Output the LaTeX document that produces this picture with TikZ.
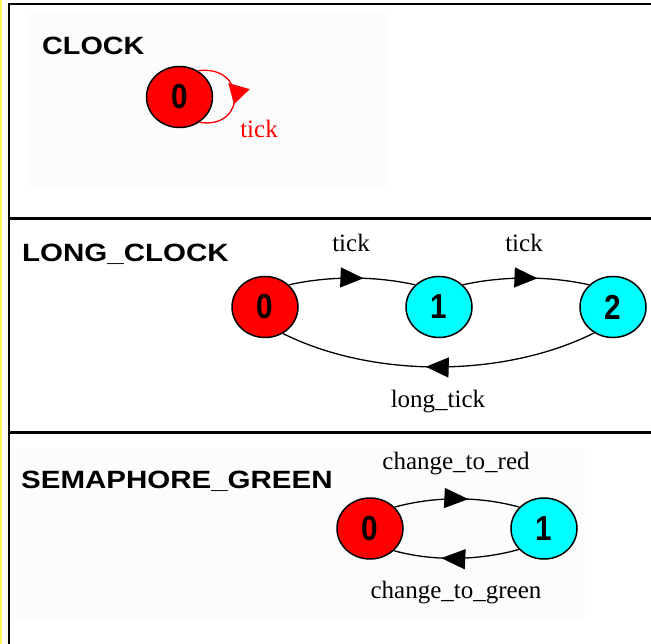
\documentclass[tikz,border=0pt]{standalone}
\usepackage{fontspec}
\setmainfont{Liberation Serif}
\newfontfamily\hdfont{Liberation Sans}
\usetikzlibrary{arrows.meta,decorations.markings,shapes.geometric}
\definecolor{stred}{HTML}{FF0000}
\definecolor{stcyan}{HTML}{00FFFF}
\definecolor{panelgray}{HTML}{FCFCFC}
\definecolor{borderyellow}{HTML}{FFF44F}
\begin{document}
\begin{tikzpicture}[x=1pt,y=-1pt,
  state/.style={ellipse, draw=black, line width=1.5pt, minimum width=66pt, minimum height=61pt, inner sep=0pt, font=\hdfont\bfseries\fontsize{33}{33}\selectfont},
  redstate/.style={state, fill=stred},
  cyanstate/.style={state, fill=stcyan},
  title/.style={anchor=base west, inner sep=0pt, font=\hdfont\bfseries\fontsize{25}{25}\selectfont},
  lbl/.style={inner sep=0pt, font=\fontsize{25}{25}\selectfont},
  edge/.style={line width=1.3pt, color=black},
  loopedge/.style={line width=1.3pt, color=stred},
  midarrow/.style 2 args={postaction={decorate}, decoration={markings, mark=at position #1 with {\arrow{Triangle[#2]}}}},
]
\useasboundingbox (0,0) rectangle (651,644);
% faint panels
\fill[panelgray] (30,13) rectangle (387,187);
\fill[panelgray] (10,448) rectangle (585,618);
% frame
\draw[borderyellow, line width=2.5pt] (1,0) -- (1,644);
\draw[line width=2.5pt] (9,644) -- (9,4) -- (651,4);
\draw[line width=3pt] (9,218.5) -- (651,218.5);
\draw[line width=3pt] (9,432.5) -- (651,432.5);

% CLOCK
\node[title] (tclock) at (42,55) {\scalebox{1.15}[1]{CLOCK}};
\node[redstate] (c0) at (179.5,97) {\scalebox{0.9}[1.05]{0}};
\draw[loopedge, midarrow={0.58}{length=19pt,width=22pt}] (c0.55) .. controls (247,64) and (247,130) .. (c0.-52);
\node[lbl, text=stred] (ctick) at (259,129) {tick};

% LONG_CLOCK
\node[title] (tlong) at (22,262) {\scalebox{1.18}[1]{LONG\_CLOCK}};
\node[redstate] (l0) at (265,307) {\scalebox{0.9}[1.05]{0}};
\node[cyanstate] (l1) at (439,307) {\scalebox{0.9}[1.05]{1}};
\node[cyanstate] (l2) at (613,307) {\scalebox{0.9}[1.05]{2}};
\draw[edge, midarrow={0.59}{length=23pt,width=20pt}] (l0.43) .. controls +(40,-9) and +(-40,-9) .. (l1.137);
\draw[edge, midarrow={0.59}{length=23pt,width=20pt}] (l1.43) .. controls +(40,-9) and +(-40,-9) .. (l2.137);
\draw[edge, midarrow={0.54}{length=23pt,width=20pt}] (l2.234) .. controls +(-90,45) and +(90,45) .. (l0.304);
\node[lbl] (ltick1) at (351,243) {tick};
\node[lbl] (ltick2) at (524,243) {tick};
\node[lbl] (llong) at (438,402) {long\_tick};

% SEMAPHORE_GREEN
\node[title] (tsem) at (21,488) {\scalebox{1.18}[1]{SEMAPHORE\_GREEN}};
\node[redstate] (s0) at (370,528.5) {\scalebox{0.9}[1.05]{0}};
\node[cyanstate] (s1) at (544,528.5) {\scalebox{0.9}[1.05]{1}};
\draw[edge, midarrow={0.59}{length=24pt,width=20pt}] (s0.41) .. controls +(40,-11) and +(-40,-11) .. (s1.139);
\draw[edge, midarrow={0.62}{length=24pt,width=20pt}] (s1.220) .. controls +(-40,11) and +(40,11) .. (s0.317);
\node[lbl] (sred) at (456,464) {change\_to\_red};
\node[lbl] (sgreen) at (456,593) {change\_to\_green};
\end{tikzpicture}
\end{document}
